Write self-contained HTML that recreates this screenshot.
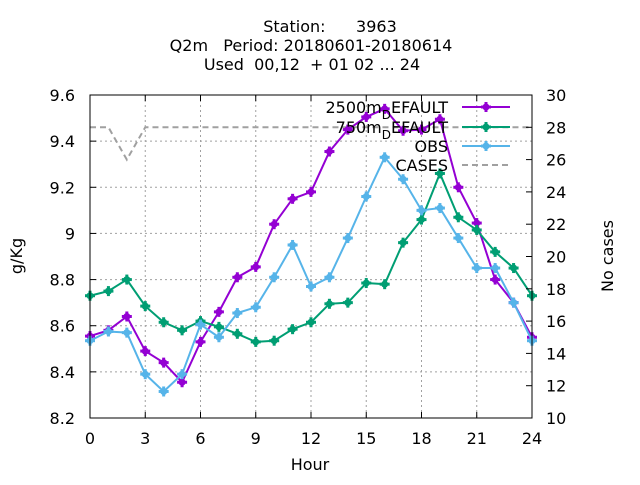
<!DOCTYPE html>
<html><head><meta charset="utf-8"><style>
body{margin:0;background:#fff}
svg{font-family:"DejaVu Sans","Liberation Sans",sans-serif;font-size:16px}
</style></head><body>
<svg width="640" height="480" id="c">
<g id="grid"></g>
<g id="series"></g>
<rect x="90" y="95" width="442" height="323" fill="none" stroke="#000" stroke-width="1"/>
<g id="axes"></g>
<text x="330" y="32" text-anchor="middle" xml:space="preserve">Station:      3963</text>
<text x="311" y="51" text-anchor="middle" xml:space="preserve">Q2m   Period: 20180601-20180614</text>
<text x="312" y="70" text-anchor="middle" xml:space="preserve">Used  00,12  + 01 02 ... 24</text>
<text x="310" y="470" text-anchor="middle">Hour</text>
<text transform="translate(22,256) rotate(-90)" text-anchor="middle">g/Kg</text>
<text transform="translate(613,256) rotate(-90)" text-anchor="middle">No cases</text>
<g id="legend"></g>
</svg>
<script>
const hours=[0,1,2,3,4,5,6,7,8,9,10,11,12,13,14,15,16,17,18,19,20,21,22,23,24];
const s2500=[8.555,8.58,8.64,8.49,8.44,8.355,8.53,8.66,8.81,8.855,9.04,9.15,9.18,9.355,9.45,9.505,9.54,9.445,9.45,9.495,9.2,9.045,8.8,8.70,8.55];
const s750=[8.73,8.75,8.80,8.685,8.615,8.58,8.62,8.595,8.565,8.53,8.535,8.585,8.615,8.695,8.70,8.785,8.78,8.96,9.06,9.26,9.07,9.015,8.92,8.85,8.73];
const obs=[8.535,8.575,8.57,8.39,8.315,8.39,8.605,8.55,8.655,8.68,8.81,8.95,8.77,8.81,8.98,9.16,9.33,9.235,9.10,9.11,8.98,8.85,8.85,8.70,8.535];
const cases=[28,28,26,28,28,28,28,28,28,28,28,28,28,28,28,28,28,28,28,28,28,28,28,28,28];
const xTicks=[0,3,6,9,12,15,18,21,24];
const yTicks=[8.2,8.4,8.6,8.8,9,9.2,9.4,9.6];
const yTickLabels=["8.2","8.4","8.6","8.8","9","9.2","9.4","9.6"];
const y2Ticks=[10,12,14,16,18,20,22,24,26,28,30];
const NS="http://www.w3.org/2000/svg";
const X=h=>90+h*442/24, Y=v=>418-(v-8.2)*323/1.4, Y2=v=>418-(v-10)*323/20;
function mk(t,a,p){const e=document.createElementNS(NS,t);for(const k in a)e.setAttribute(k,a[k]);p.appendChild(e);return e;}
const grid=document.getElementById('grid'),axes=document.getElementById('axes'),ser=document.getElementById('series'),leg=document.getElementById('legend');
xTicks.forEach(t=>{const x=X(t);
 if(t>0&&t<24){const g=mk('line',{x1:x,x2:x,y1:95,y2:418,stroke:'#a0a0a0','stroke-dasharray':'2,3'},grid);}
 mk('line',{x1:x,x2:x,y1:418,y2:412,stroke:'#000'},axes);mk('line',{x1:x,x2:x,y1:95,y2:101,stroke:'#000'},axes);
 const l=mk('text',{x:x,y:444,'text-anchor':'middle'},axes);l.textContent=t;});
yTicks.forEach((t,i)=>{const y=Y(t);
 if(i>0&&i<yTicks.length-1){const g=mk('line',{x1:90,x2:532,y1:y,y2:y,stroke:'#a0a0a0','stroke-dasharray':'2,3'},grid);}
 mk('line',{x1:90,x2:96,y1:y,y2:y,stroke:'#000'},axes);
 const l=mk('text',{x:75,y:y+6,'text-anchor':'end'},axes);l.textContent=yTickLabels[i];});
y2Ticks.forEach(t=>{const y=Y2(t);
 mk('line',{x1:526,x2:532,y1:y,y2:y,stroke:'#000'},axes);
 const l=mk('text',{x:546,y:y+6},axes);l.textContent=t;});
const cp=mk('polyline',{points:hours.map((h,i)=>X(h)+','+Y2(cases[i])).join(' '),fill:'none',stroke:'#a0a0a0','stroke-width':2,'stroke-dasharray':'6,4'},ser);

function marker(x,y,c,p){mk('circle',{cx:x,cy:y,r:3.5,fill:c},p);mk('rect',{x:x-1.5,y:y-5,width:3,height:10,fill:c},p);mk('rect',{x:x-5,y:y-1.5,width:10,height:3,fill:c},p);}
function series(vals,c,name){const g=mk('g',{},ser);
 mk('polyline',{points:hours.map((h,i)=>X(h)+','+Y(vals[i])).join(' '),fill:'none',stroke:c,'stroke-width':2},g);
 hours.forEach((h,i)=>marker(X(h),Y(vals[i]),c,g));}
series(s2500,'#9400d3','series-2500m');
series(s750,'#009e73','series-750m');
series(obs,'#56b4e9','series-obs');
const items=[["2500m","#9400d3",107,true],["750m","#009e73",127,true],["OBS","#56b4e9",146,false],["CASES","#a0a0a0",165,false]];
items.forEach(it=>{const g=mk('g',{},leg);
 const t=mk('text',{x:448,y:it[2]+6,'text-anchor':'end'},g);
 if(it[3]){t.textContent=it[0];const s=mk('tspan',{dy:'6','font-size':'12'},t);s.textContent='D';const r=mk('tspan',{dy:'-6'},t);r.textContent='EFAULT';}
 else t.textContent=it[0];
 if(it[0]==="CASES")mk('line',{x1:462,x2:510,y1:it[2],y2:it[2],stroke:it[1],'stroke-width':2,'stroke-dasharray':'6,4'},g);
 else{mk('line',{x1:462,x2:510,y1:it[2],y2:it[2],stroke:it[1],'stroke-width':2},g);marker(486,it[2],it[1],g);}});
</script>
</body></html>
